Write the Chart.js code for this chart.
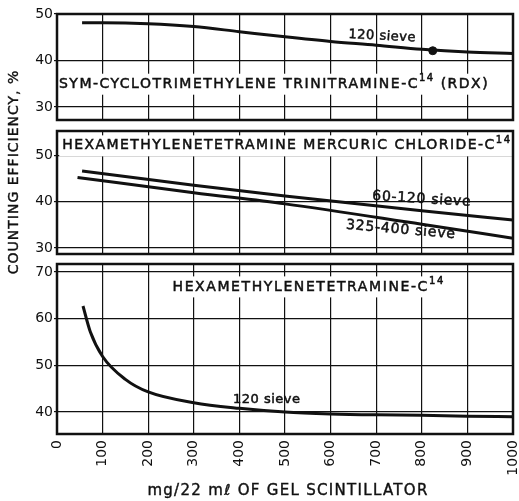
<!DOCTYPE html>
<html>
<head>
<meta charset="utf-8">
<script src="https://cdn.jsdelivr.net/npm/chart.js@4.4.1/dist/chart.umd.min.js"></script>
<style>
  body { margin: 0; background: #fff; }
  #wrap { position: relative; width: 519px; height: 501px; }
  canvas { position: absolute; left: 0; top: 0; }
</style>
</head>
<body>
<div id="wrap">
  <canvas id="rdxChart" width="519" height="501"></canvas>
  <canvas id="mercChart" width="519" height="501"></canvas>
  <canvas id="hexaChart" width="519" height="501"></canvas>
</div>
<script>
// RDX, 120 sieve
const rdxMg = [55, 100, 200, 300, 400, 500, 600, 700, 800, 900, 1000];
const rdxEff = [48.1, 48.1, 47.9, 47.3, 46.2, 45.1, 44.1, 43.3, 42.4, 41.8, 41.5];
const rdxPointMg = [824];
const rdxPointEff = [42.1];

// hexamethylenetetramine mercuric chloride
const merc60Mg = [55, 300, 500, 800, 1000];
const merc60Eff = [46.6, 43.5, 41.2, 38.0, 36.0];
const merc325Mg = [45, 300, 500, 800, 1000];
const merc325Eff = [45.2, 41.9, 39.5, 35.1, 32.1];

// hexamethylenetetramine, 120 sieve
const hexaMg = [57, 73, 100, 150, 200, 300, 400, 500, 600, 700, 800, 900, 1000];
const hexaEff = [62.7, 57.2, 51.9, 47.0, 44.3, 42.0, 40.8, 40.0, 39.6, 39.4, 39.3, 39.1, 39.0];

const xTicks = [0, 100, 200, 300, 400, 500, 600, 700, 800, 900, 1000];

const FONT = '"DejaVu Sans", sans-serif';
const INK = '#111';

function pts(xs, ys) {
  return xs.map((x, i) => ({ x, y: ys[i] }));
}

function lineSet(xs, ys) {
  return {
    data: pts(xs, ys),
    borderColor: INK,
    borderWidth: 3,
    pointRadius: 0,
    cubicInterpolationMode: 'monotone',
    fill: false
  };
}

// text written into the plot, in data coordinates
function drawLabel(ctx, chart, lab) {
  const px = chart.scales.x.getPixelForValue(lab.x);
  const py = chart.scales.y.getPixelForValue(lab.y);
  ctx.save();
  ctx.translate(px, py);
  ctx.rotate((lab.angle || 0) * Math.PI / 180);
  ctx.letterSpacing = (lab.spacing || 0) + 'px';
  ctx.textBaseline = 'middle';
  ctx.textAlign = 'left';
  let w = 0;
  lab.parts.forEach(p => {
    ctx.font = (p.sup ? Math.round(lab.size * 0.7) : lab.size) + 'px ' + FONT;
    p.w = ctx.measureText(p.t).width;
    w += p.w;
  });
  if (lab.bg) {
    ctx.fillStyle = '#fff';
    ctx.fillRect(-w / 2 - 3, -lab.size * 0.75, w + 6, lab.size * 1.5);
  }
  ctx.fillStyle = INK;
  ctx.strokeStyle = INK;
  ctx.lineWidth = 0.5;
  let cx = -w / 2;
  lab.parts.forEach(p => {
    ctx.font = (p.sup ? Math.round(lab.size * 0.7) : lab.size) + 'px ' + FONT;
    const ty = p.sup ? -lab.size * 0.4 : 0;
    ctx.fillText(p.t, cx, ty);
    ctx.strokeText(p.t, cx, ty);
    cx += p.w;
  });
  ctx.restore();
}

const panelPlugin = {
  id: 'panel',
  afterDatasetsDraw(chart, args, opts) {
    const ctx = chart.ctx;
    (opts.labels || []).forEach(lab => drawLabel(ctx, chart, lab));
  },
  afterDraw(chart, args, opts) {
    const ctx = chart.ctx;
    const a = chart.chartArea;
    ctx.save();
    ctx.strokeStyle = INK;
    ctx.lineWidth = 2.5;
    ctx.strokeRect(a.left, a.top, a.right - a.left, a.bottom - a.top);
    if (opts.axisTitles) {
      ctx.fillStyle = INK;
      ctx.lineWidth = 0.4;
      ctx.font = '15px ' + FONT;
      ctx.letterSpacing = '1.3px';
      ctx.textAlign = 'center';
      ctx.textBaseline = 'middle';
      const xt = 'mg/22 m\u2113 OF GEL SCINTILLATOR';
      ctx.fillText(xt, (a.left + a.right) / 2 + 3, chart.height - 10);
      ctx.strokeText(xt, (a.left + a.right) / 2 + 3, chart.height - 10);
      ctx.font = '14px ' + FONT;
      ctx.letterSpacing = '1px';
      ctx.translate(14, 172);
      ctx.rotate(-Math.PI / 2);
      ctx.fillText('COUNTING EFFICIENCY, %', 0, 0);
      ctx.strokeText('COUNTING EFFICIENCY, %', 0, 0);
    }
    ctx.restore();
  }
};

function makePanel(id, cfg) {
  const showX = !!cfg.showX;
  return new Chart(document.getElementById(id), {
    type: 'line',
    data: { datasets: cfg.datasets },
    plugins: [panelPlugin],
    options: {
      responsive: false,
      animation: false,
      events: [],
      layout: { padding: { left: 0, right: 6, top: cfg.top, bottom: showX ? 0 : 501 - cfg.bottom } },
      plugins: {
        legend: { display: false },
        tooltip: { enabled: false },
        panel: { labels: cfg.labels, axisTitles: showX }
      },
      scales: {
        x: {
          type: 'linear',
          min: 0,
          max: 1000,
          afterBuildTicks: s => { s.ticks = xTicks.map(v => ({ value: v })); },
          afterFit: s => {
            s.height = showX ? 501 - cfg.bottom : 0;
            s.paddingLeft = 0;
            s.paddingRight = 0;
          },
          grid: { color: INK, lineWidth: 1.2, drawTicks: false },
          border: { display: false },
          ticks: {
            display: showX,
            minRotation: 90,
            maxRotation: 90,
            padding: 6,
            color: INK,
            font: { family: FONT, size: 14 },
            callback: v => String(v)
          }
        },
        y: {
          min: cfg.yMin,
          max: cfg.yMax,
          afterFit: s => { s.width = 57; },
          grid: { color: INK, lineWidth: 1.2, tickLength: 3 },
          border: { display: false },
          ticks: {
            stepSize: 10,
            includeBounds: false,
            padding: 1,
            color: INK,
            font: { family: FONT, size: 14 }
          }
        }
      }
    }
  });
}

const sup = t => ({ t, sup: true });
const txt = t => ({ t });

makePanel('rdxChart', {
  top: 14, bottom: 120, yMin: 27.2, yMax: 50,
  datasets: [
    lineSet(rdxMg, rdxEff),
    { data: pts(rdxPointMg, rdxPointEff), showLine: false, pointRadius: 4, pointBackgroundColor: INK, pointBorderColor: INK }
  ],
  labels: [
    { parts: [txt('120 sieve')], x: 713, y: 45.2, size: 13, spacing: 0.5, angle: 3 },
    { parts: [txt('SYM-CYCLOTRIMETHYLENE TRINITRAMINE-C'), sup('14'), txt(' (RDX)')], x: 476, y: 34.9, size: 14, spacing: 1.5, bg: true }
  ]
});

makePanel('mercChart', {
  top: 131, bottom: 254, yMin: 28.7, yMax: 55.2,
  datasets: [lineSet(merc60Mg, merc60Eff), lineSet(merc325Mg, merc325Eff)],
  labels: [
    { parts: [txt('60-120 sieve')], x: 800, y: 40.5, size: 14, spacing: 0.7, angle: 3.5 },
    { parts: [txt('325-400 sieve')], x: 754, y: 33.9, size: 14, spacing: 0.8, angle: 5 },
    { parts: [txt('HEXAMETHYLENETETRAMINE MERCURIC CHLORIDE-C'), sup('14')], x: 504, y: 52.0, size: 14, spacing: 1.45, bg: true }
  ]
});

makePanel('hexaChart', {
  top: 264, bottom: 434, yMin: 35.3, yMax: 71.7, showX: true,
  datasets: [lineSet(hexaMg, hexaEff)],
  labels: [
    { parts: [txt('HEXAMETHYLENETETRAMINE-C'), sup('14')], x: 552, y: 66.8, size: 14, spacing: 1.6, bg: true },
    { parts: [txt('120 sieve')], x: 460, y: 42.7, size: 13, spacing: 0.5 }
  ]
});
</script>
</body>
</html>
